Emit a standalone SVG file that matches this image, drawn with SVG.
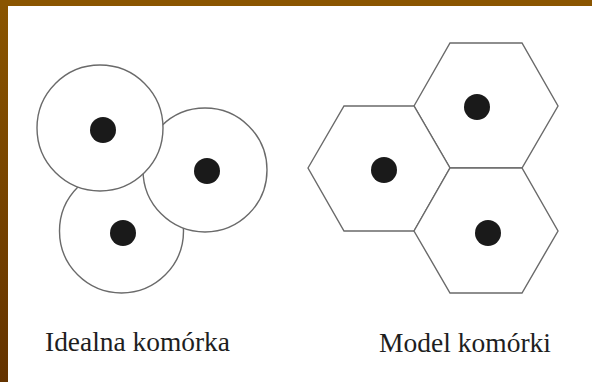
<svg xmlns="http://www.w3.org/2000/svg" width="592" height="382" viewBox="0 0 592 382">
<defs>
<linearGradient id="lg" x1="0" y1="0" x2="0" y2="1">
<stop offset="0" stop-color="#8a5500"/>
<stop offset="1" stop-color="#643300"/>
</linearGradient>
<style>
.cell{fill:#ffffff;stroke:#6a6a6a;stroke-width:1.4}
.dot{fill:#1a1a1a}
.lbl{font-family:"Liberation Serif","Times New Roman",serif;font-size:28px;fill:#1e1e1e}
</style>
</defs>
<rect x="0" y="0" width="592" height="382" fill="#ffffff"/>
<rect x="0" y="0" width="8" height="382" fill="url(#lg)"/>
<rect x="0" y="0" width="592" height="6" fill="#8a5500"/>
<g id="ideal">
<g id="circle3"><circle class="cell" cx="121.5" cy="231" r="62"/><circle class="dot" cx="123" cy="233" r="13"/></g>
<g id="circle2"><circle class="cell" cx="205" cy="170" r="62"/><circle class="dot" cx="207" cy="171" r="13"/></g>
<g id="circle1"><circle class="cell" cx="100" cy="128" r="63"/><circle class="dot" cx="103" cy="130" r="13"/></g>
</g>
<g id="model">
<g id="hex1"><polygon class="cell" points="414,106 450,43 522,43 558,106 522,168 450,168"/><circle class="dot" cx="477" cy="107" r="13"/></g>
<g id="hex2"><polygon class="cell" points="308,168 344,106 414,106 450,168 414,231 344,231"/><circle class="dot" cx="384" cy="170" r="13"/></g>
<g id="hex3"><polygon class="cell" points="414,231 450,168 522,168 558,231 522,293 450,293"/><circle class="dot" cx="488" cy="233" r="13"/></g>
</g>
<g id="labels">
<text class="lbl" x="45" y="351" textLength="185" lengthAdjust="spacingAndGlyphs">Idealna komórka</text>
<text class="lbl" x="379" y="352" textLength="172" lengthAdjust="spacingAndGlyphs">Model komórki</text>
</g>
</svg>
